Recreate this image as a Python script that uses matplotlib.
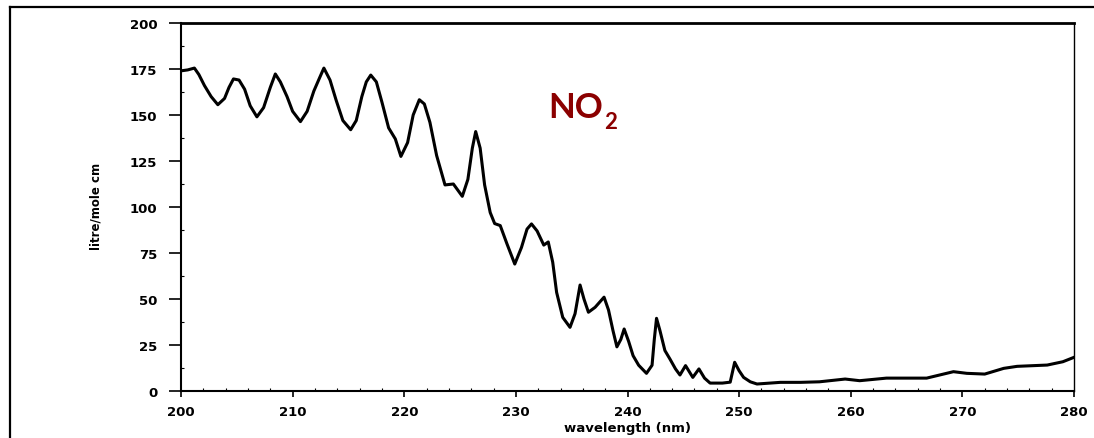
import matplotlib.pyplot as plt
from matplotlib.lines import Line2D
from matplotlib.ticker import MultipleLocator

# NO2 absorption spectrum
wavelength = [200.0, 200.6, 201.2, 201.6, 202.1, 202.7, 203.3, 203.9, 204.3, 204.7,
              205.2, 205.7, 206.2, 206.8, 207.4, 208.0, 208.45, 208.9, 209.5, 210.0,
              210.7, 211.3, 211.9, 212.4, 212.8, 213.35, 213.9, 214.5, 215.2, 215.7,
              216.2, 216.6, 217.0, 217.5, 218.0, 218.6, 219.2, 219.7, 220.3, 220.8,
              221.35, 221.8, 222.3, 222.9, 223.65, 224.4, 225.2, 225.7, 226.1, 226.4,
              226.8, 227.2, 227.7, 228.1, 228.6, 229.2, 229.9, 230.5, 231.0, 231.4,
              231.9, 232.5, 232.9, 233.3, 233.65, 234.2, 234.85, 235.3, 235.75, 236.1,
              236.5, 237.1, 237.9, 238.3, 238.7, 239.05, 239.4, 239.7, 240.1, 240.5,
              241.0, 241.7, 242.2, 242.4, 242.6, 242.9, 243.35, 243.8, 244.3, 244.7,
              245.2, 245.85, 246.4, 246.9, 247.4, 248.5, 249.2, 249.6, 250.0, 250.4,
              251.0, 251.6, 253.7, 255.5, 257.2, 259.5, 260.8, 263.2, 266.8, 269.2,
              270.4, 272.0, 273.7, 274.9, 277.6, 279.0, 280.0]
absorbance = [174, 174.5, 175.5, 172, 166, 160, 155.6, 159, 165, 169.6,
              169, 164, 155, 149, 154, 165, 172.3, 168, 160, 152,
              146.4, 152, 163, 170, 175.5, 169, 158, 147, 142, 147,
              160, 168, 171.7, 168, 157, 143, 137, 127.5, 135, 150,
              158.3, 156, 146, 128, 112, 112.5, 105.8, 115, 132, 141,
              132, 112, 97, 91, 89.9, 80, 69, 78, 88, 90.8,
              87, 79.3, 81, 70, 53.6, 40, 34.6, 42, 57.6, 50,
              42.8, 45.5, 51, 44, 32.8, 24, 28, 33.7, 27, 19.2,
              14, 9.6, 14, 28, 39.5, 33, 22, 17.4, 12, 8.7,
              13.8, 7.4, 12, 7, 4.3, 4.3, 4.8, 15.6, 11, 7.4,
              5, 3.8, 4.7, 4.7, 5, 6.5, 5.6, 7, 7, 10.5,
              9.6, 9.2, 12.3, 13.4, 14.1, 15.9, 18.3]

x_ticks = [200, 210, 220, 230, 240, 250, 260, 270, 280]
y_ticks = [0, 25, 50, 75, 100, 125, 150, 175, 200]

fig = plt.figure(figsize=(10.94, 4.39), dpi=100)
ax = fig.add_axes([181 / 1094, 1 - 392 / 439, 893 / 1094, 368 / 439])

ax.plot(wavelength, absorbance, color="black", lw=2.2, solid_joinstyle="round")

ax.set_xlim(200, 280)
ax.set_ylim(0, 200)
ax.set_xticks(x_ticks)
ax.set_yticks(y_ticks)
ax.xaxis.set_minor_locator(MultipleLocator(2))
ax.yaxis.set_minor_locator(MultipleLocator(12.5))

tick_font = dict(family="DejaVu Sans", weight="bold", size=9.5)
ax.set_xticklabels([str(t) for t in x_ticks], **tick_font)
ax.set_yticklabels([str(t) for t in y_ticks], **tick_font)
ax.tick_params(axis="y", which="major", direction="out", length=9, width=1.2, pad=8)
ax.tick_params(axis="x", which="major", direction="out", length=4, width=1.2, pad=6)
ax.tick_params(which="minor", direction="in", length=2, width=0.8)

for side in ["left", "bottom"]:
    ax.spines[side].set_linewidth(1.5)
ax.spines["top"].set_linewidth(2)
ax.spines["right"].set_linewidth(1)

ax.set_xlabel("wavelength (nm)", family="DejaVu Sans", weight="bold", size=9.5, labelpad=2)
ax.set_ylabel("litre/mole cm", family="Liberation Sans Narrow", weight="bold", size=8.5)
ax.yaxis.set_label_coords(-0.088, 0.505)

no_text = ax.text(232.9, 149, "NO", family="Lato", weight="bold", size=25,
                  color="#8b0000", ha="left", va="baseline")
ax.annotate("2", xy=(1, 0), xycoords=no_text, xytext=(1, -4), textcoords="offset points",
            family="Lato", weight="bold", size=16, color="#8b0000",
            ha="left", va="baseline")

# scanned page frame
fig.add_artist(Line2D([10 / 1094, 10 / 1094], [0, 1 - 8 / 439], color="black", lw=1.6))
fig.add_artist(Line2D([10 / 1094, 1], [1 - 8 / 439, 1 - 8 / 439], color="black", lw=1.6))

plt.savefig("out.png", dpi=100)
